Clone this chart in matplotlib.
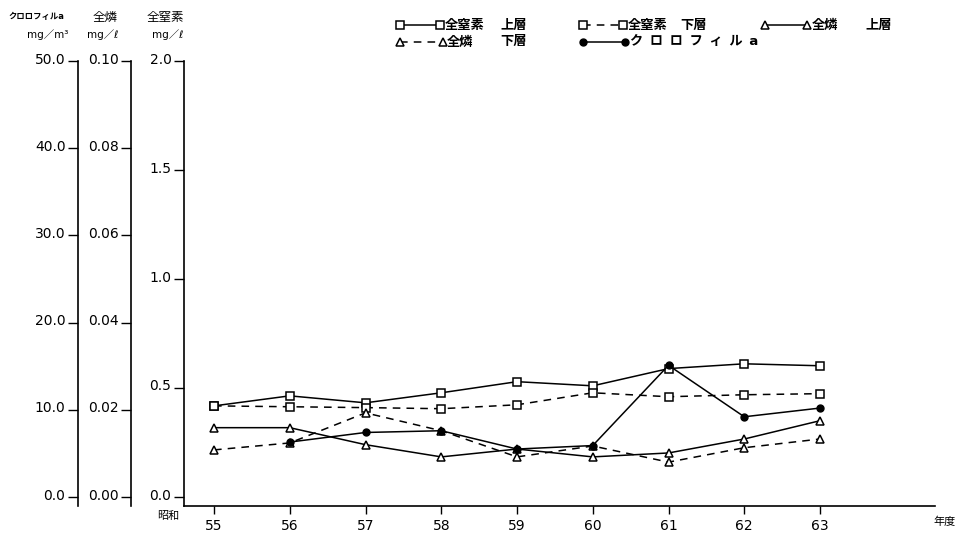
import matplotlib.pyplot as plt
from matplotlib.lines import Line2D
from matplotlib.transforms import ScaledTranslation

plt.rcParams['font.family'] = ['DejaVu Sans', 'Noto Sans CJK JP']

# Data (昭和 55-63 年度)
years = [55, 56, 57, 58, 59, 60, 61, 62, 63]
tn_upper = [0.418, 0.464, 0.432, 0.478, 0.529, 0.510, 0.589, 0.611, 0.602]
tn_lower = [0.418, 0.414, 0.410, 0.405, 0.423, 0.478, 0.460, 0.469, 0.474]
tp_upper = [0.0159, 0.0159, 0.0120, 0.0092, 0.0110, 0.0092, 0.0101, 0.0133, 0.0175]
tp_lower = [0.0108, 0.0124, 0.0193, 0.0152, 0.0092, 0.0117, 0.0080, 0.0113, 0.0133]
chl_years = [56, 57, 58, 59, 60, 61, 62, 63]
chl = [6.3, 7.4, 7.6, 5.5, 5.9, 15.1, 9.2, 10.2]

W, H = 961, 533

def fx(px):
    return px / W

def fy(py):
    return 1 - py / H

# Creating the figure
fig = plt.figure(figsize=(9.61, 5.33), dpi=100)
ax = fig.add_axes([fx(184), fy(506), fx(935) - fx(184), fy(61) - fy(506)])

# Lower limit slightly under zero (x-axis sits below the 0 tick)
frac = 9 / 436
ax.set_ylim(-2.0 * frac, 2.0)
ax.set_xlim(54.604, 64.518)

# Extra axes for 全燐 and クロロフィル a
ax_p = ax.twinx()
ax_c = ax.twinx()
ax_p.set_ylim(-0.10 * frac, 0.10)
ax_c.set_ylim(-50 * frac, 50)

dash = (0, (5, 4))
lw = 1.1
sq = dict(marker='s', ms=6, mfc='white', mec='black', mew=1.1)
tri = dict(marker='^', ms=5.5, mfc='white', mec='black', mew=1.1)
dot = dict(marker='o', ms=5, mfc='black', mec='black')

ax.plot(years, tn_upper, color='black', lw=lw, **sq)
ax.plot(years, tn_lower, color='black', lw=lw, ls=dash, **sq)
ax_p.plot(years, tp_upper, color='black', lw=lw, **tri)
ax_p.plot(years, tp_lower, color='black', lw=lw, ls=dash, **tri)
ax_c.plot(chl_years, chl, color='black', lw=lw, **dot)

# Customizing axis
shift = ScaledTranslation(0, 3 / 100, fig.dpi_scale_trans)
for a in (ax, ax_p, ax_c):
    a.spines['top'].set_visible(False)
    a.spines['right'].set_visible(False)
    a.spines['left'].set_linewidth(1.2)
    a.yaxis.set_ticks_position('left')
    a.yaxis.set_label_position('left')
    a.tick_params(axis='y', direction='out', length=7, width=1, labelsize=10, pad=2)

ax.spines['bottom'].set_linewidth(1.2)
ax_p.spines['bottom'].set_visible(False)
ax_c.spines['bottom'].set_visible(False)
ax_p.spines['left'].set_visible(True)
ax_c.spines['left'].set_visible(True)
ax_p.spines['left'].set_position(('axes', (131 - 184) / 751))
ax_c.spines['left'].set_position(('axes', (78 - 184) / 751))

ax.set_yticks([0.0, 0.5, 1.0, 1.5, 2.0])
ax.set_yticklabels(['0.0', '0.5', '1.0', '1.5', '2.0'])
ax_p.set_yticks([0.0, 0.02, 0.04, 0.06, 0.08, 0.10])
ax_p.set_yticklabels(['0.00', '0.02', '0.04', '0.06', '0.08', '0.10'])
ax_c.set_yticks([0, 10, 20, 30, 40, 50])
ax_c.set_yticklabels(['0.0', '10.0', '20.0', '30.0', '40.0', '50.0'])

# Labels sit a little above their ticks
for a in (ax, ax_p, ax_c):
    for lab in a.get_yticklabels():
        lab.set_transform(lab.get_transform() + shift)

ax.set_xticks(years)
ax.set_xticklabels([str(y) for y in years])
ax.tick_params(axis='x', direction='out', length=6, width=1, labelsize=10, pad=3)

# Axis headers
fig.text(fx(36), fy(17), 'クロロフィルa', ha='center', va='center', fontsize=6, fontweight='bold')
fig.text(fx(68), fy(35), 'mg／m³', ha='right', va='center', fontsize=7.5)
fig.text(fx(105), fy(17), '全燐', ha='center', va='center', fontsize=9)
fig.text(fx(118), fy(35), 'mg／ℓ', ha='right', va='center', fontsize=7.5)
fig.text(fx(165), fy(17), '全窒素', ha='center', va='center', fontsize=9)
fig.text(fx(183), fy(35), 'mg／ℓ', ha='right', va='center', fontsize=7.5)
fig.text(fx(168), fy(516), '昭和', ha='center', va='center', fontsize=8)
fig.text(fx(945), fy(522), '年度', ha='center', va='center', fontsize=8)

# Legend drawn by hand (two rows, irregular columns as in the original)
legend_rows = [
    (25, 400, 440, '-', sq, ['全窒素', '上層'], [445, 500]),
    (25, 583, 623, dash, sq, ['全窒素', '下層'], [628, 680]),
    (25, 765, 807, '-', tri, ['全燐', '上層'], [812, 865]),
    (42, 400, 443, dash, tri, ['全燐', '下層'], [447, 500]),
    (42, 583, 625, '-', dot, ['ク\u2002ロ\u2002ロ\u2002フ\u2002ィ\u2002ル\u2002a'], [630]),
]
for y, x0, x1, ls, mk, texts, xs in legend_rows:
    fig.add_artist(Line2D([fx(x0), fx(x1)], [fy(y), fy(y)], transform=fig.transFigure,
                          color='black', lw=lw, ls=ls, **mk))
    for t, xt in zip(texts, xs):
        fig.text(fx(xt), fy(y), t, ha='left', va='center', fontsize=9.5, fontweight='bold')

# Saving the chart
plt.savefig('out.png', dpi=100)
plt.close()
